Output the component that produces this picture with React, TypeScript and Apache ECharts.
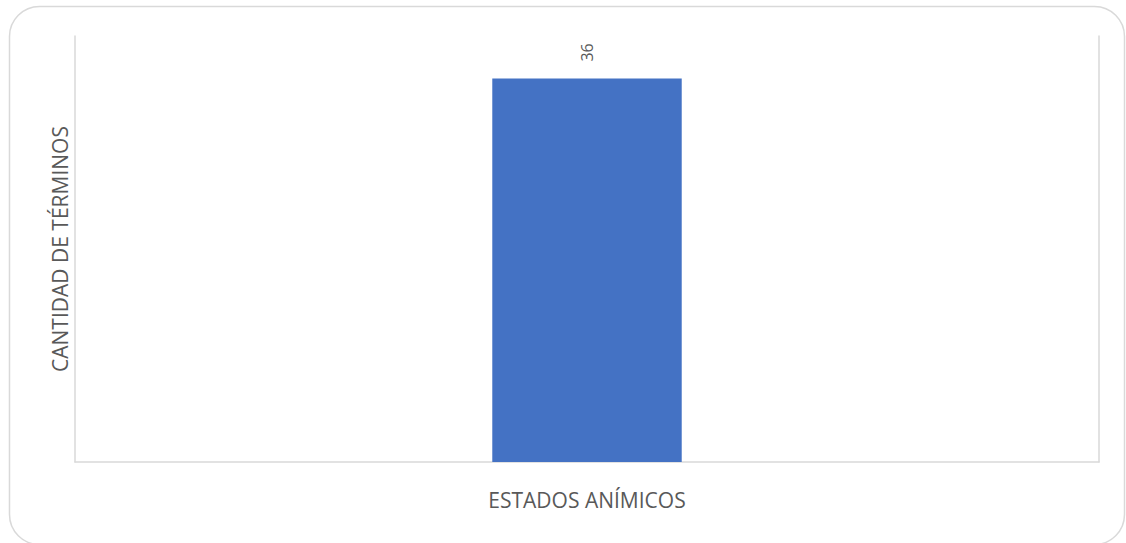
import React, { useEffect, useRef } from "react";
import * as echarts from "echarts";

const categories = ["ESTADOS ANÍMICOS"];
const values = [36];
const yAxisTitle = "CANTIDAD DE TÉRMINOS";
const xAxisTitle = "ESTADOS ANÍMICOS";

export default function App() {
  const ref = useRef<HTMLDivElement>(null);
  useEffect(() => {
    if (!ref.current) return;
    const chart = echarts.init(ref.current, null, { renderer: "svg" });
    chart.setOption({
      animation: false,
      textStyle: { fontFamily: "Open Sans" },
      graphic: [
        {
          type: "rect",
          shape: { x: 9.5, y: 6.5, width: 1115, height: 538, r: 30 },
          style: { fill: "none", stroke: "#d9d9d9", lineWidth: 1.5 },
          z: -1,
        },
        {
          type: "text",
          x: 587,
          y: 500,
          style: {
            text: xAxisTitle,
            fill: "#595959",
            fontSize: 21,
            fontFamily: "Open Sans",
            align: "center",
            verticalAlign: "middle",
          },
        },
      ],
      grid: { left: 75, right: 27, top: 36, bottom: 81 },
      xAxis: {
        type: "category",
        data: categories,
        axisLine: { show: true, lineStyle: { color: "#d9d9d9", width: 1.5 } },
        axisTick: { show: false },
        axisLabel: { show: false },
      },
      yAxis: [
        {
          type: "value",
          min: 0,
          max: 40,
          axisLine: { show: true, lineStyle: { color: "#d9d9d9", width: 1.5 } },
          axisTick: { show: false },
          axisLabel: { show: false },
          splitLine: { show: false },
          name: yAxisTitle,
          nameLocation: "middle",
          nameGap: 5,
          nameTextStyle: { color: "#595959", fontSize: 21, fontFamily: "Open Sans" },
        },
        {
          type: "value",
          position: "right",
          min: 0,
          max: 40,
          axisLine: { show: true, lineStyle: { color: "#d9d9d9", width: 1.5 } },
          axisTick: { show: false },
          axisLabel: { show: false },
          splitLine: { show: false },
        },
      ],
      series: [
        {
          type: "bar",
          data: values,
          barWidth: "18.5%",
          itemStyle: { color: "#4472c4" },
          label: {
            show: true,
            position: "top",
            rotate: 90,
            align: "left",
            verticalAlign: "middle",
            distance: 17,
            color: "#595959",
            fontSize: 16,
            fontFamily: "Open Sans",
          },
        },
      ],
    });
    return () => chart.dispose();
  }, []);
  return <div ref={ref} style={{ width: 1126, height: 543, position: "absolute", left: 0, top: 0 }} />;
}
